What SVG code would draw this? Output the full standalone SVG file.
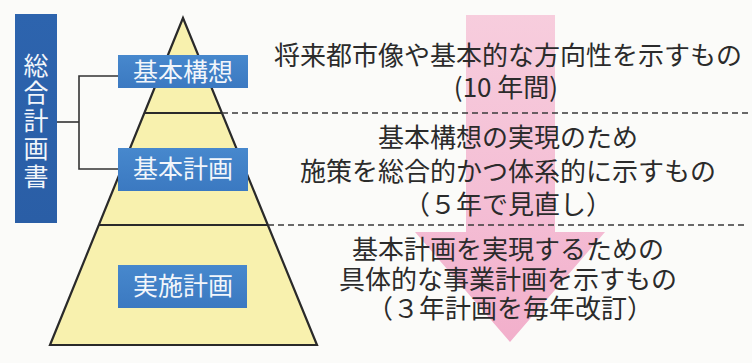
<svg xmlns="http://www.w3.org/2000/svg" width="752" height="363" viewBox="0 0 752 363">
<defs>
<linearGradient id="pink" x1="0" y1="0" x2="0" y2="1">
<stop offset="0" stop-color="#f7cddd"/>
<stop offset="0.6" stop-color="#f4bdd4"/>
<stop offset="1" stop-color="#f2afcb"/>
</linearGradient>
<linearGradient id="blue" x1="0" y1="0" x2="0" y2="1">
<stop offset="0" stop-color="#4788cd"/>
<stop offset="1" stop-color="#3b79c1"/>
</linearGradient>
<linearGradient id="dblue" x1="0" y1="0" x2="0" y2="1">
<stop offset="0" stop-color="#2d64ae"/>
<stop offset="1" stop-color="#2a5ea6"/>
</linearGradient>
</defs>
<style>
.jp{font-family:"Noto Sans CJK JP","Noto Sans",sans-serif}
.desc{font-size:26px;fill:#2b2b2b;text-anchor:middle}
.lbl{font-size:25px;fill:#f2f6fb;text-anchor:middle}
.box{fill:url(#blue)}
.dash{stroke:#3a3a3a;stroke-width:1.3;stroke-dasharray:6 4;fill:none}
.conn{stroke:#333;stroke-width:1.6;fill:none}
.pyr{fill:#f8f1ae;stroke:#2a2a2a;stroke-width:2.2;stroke-linejoin:miter}
</style>
<rect width="752" height="363" fill="#fbfbf9"/>
<g id="arrow">
<polygon points="466,15 555,15 555,232 605,232 510,342 415,232 466,232" fill="url(#pink)"/>
</g>
<g id="pyramid">
<polygon class="pyr" points="183,18 317,345 50,345"/>
<line x1="145" y1="113" x2="221" y2="113" stroke="#2a2a2a" stroke-width="2.2"/>
<line x1="99" y1="225" x2="267" y2="225" stroke="#2a2a2a" stroke-width="2.2"/>
</g>
<g id="dividers">
<line class="dash" x1="222" y1="113" x2="748" y2="113"/>
<line class="dash" x1="268" y1="225" x2="748" y2="225"/>
</g>
<g id="connectors">
<polyline class="conn" points="57,122 79,122"/>
<polyline class="conn" points="118,76 79,76 79,169 118,169"/>
</g>
<g id="sogo">
<rect x="15" y="14" width="42" height="209" fill="url(#dblue)"/>
<text class="jp lbl" x="36" y="122" style="writing-mode:vertical-rl;letter-spacing:2.7px">総合計画書</text>
</g>
<g id="kihonkoso">
<rect class="box" x="118" y="55" width="130" height="33"/>
<text class="jp lbl" x="183" y="81">基本構想</text>
</g>
<g id="kihonkeikaku">
<rect class="box" x="118" y="148" width="130" height="43"/>
<text class="jp lbl" x="183" y="178">基本計画</text>
</g>
<g id="jisshikeikaku">
<rect class="box" x="118" y="265" width="129" height="43"/>
<text class="jp lbl" x="183" y="295">実施計画</text>
</g>
<g id="desc1">
<text class="jp desc"><tspan x="508" y="65">将来都市像や基本的な方向性を示すもの</tspan><tspan x="506" y="97">(10 年間)</tspan></text>
</g>
<g id="desc2">
<text class="jp desc"><tspan x="508" y="147">基本構想の実現のため</tspan><tspan x="508" y="181">施策を総合的かつ体系的に示すもの</tspan><tspan x="508" y="214">（５年で見直し）</tspan></text>
</g>
<g id="desc3">
<text class="jp desc"><tspan x="508" y="259">基本計画を実現するための</tspan><tspan x="508" y="289">具体的な事業計画を示すもの</tspan><tspan x="510" y="318">（３年計画を毎年改訂）</tspan></text>
</g>
</svg>
